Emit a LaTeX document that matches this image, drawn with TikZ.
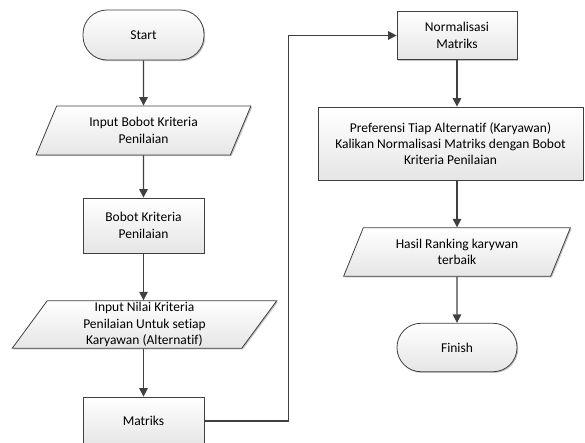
\documentclass[tikz,border=0pt]{standalone}
\usepackage{fontspec}
\setmainfont{Carlito}[Ligatures=NoCommon]
\usetikzlibrary{shapes.geometric,arrows.meta,shadows}

\def\lw{0.8pt}

\begin{document}
\begin{tikzpicture}[x=1pt, y=-1pt,
    every node/.style={font=\fontsize{13.5}{16.3}\selectfont, align=center, inner sep=0pt},
    base/.style={draw=black!75, line width=\lw, top color=white, bottom color=black!10,
      drop shadow={shadow xshift=1.2pt, shadow yshift=-1.2pt, fill=black!40, opacity=0.6}},
    term/.style={base, rectangle, rounded corners=24pt},
    io/.style={base, trapezium, trapezium left angle=63.5, trapezium right angle=116.5, trapezium stretches=true},
    proc/.style={base, rectangle},
    arr/.style={draw=black!75, line width=1.4pt, -{Triangle[width=8.5pt,length=8.5pt]}}]
      \useasboundingbox (0,0) rectangle (585,443);
      \node[term, minimum width=121pt, minimum height=50pt] (start) at (143.5, 35) {Start};
      \node[io, minimum width=215pt, minimum height=49pt] (inbobot) at (143.5, 130.5) {Input Bobot Kriteria\\Penilaian};
      \node[proc, minimum width=121pt, minimum height=55pt] (bobot) at (143.5, 225.5) {Bobot Kriteria\\Penilaian};
      \node[io, minimum width=265pt, minimum height=47.5pt] (innilai) at (144.5, 324.5) {Input Nilai Kriteria\\Penilaian Untuk setiap\\Karyawan (Alternatif)};
      \node[proc, minimum width=121pt, minimum height=48pt] (matriks) at (143.5, 421) {Matriks};
      \node[proc, minimum width=120pt, minimum height=48pt] (norm) at (457, 35.5) {Normalisasi\\Matriks};
      \node[proc, minimum width=265pt, minimum height=73pt] (pref) at (450.5, 143.5) {Preferensi Tiap Alternatif (Karyawan)\\Kalikan Normalisasi Matriks dengan Bobot\\Kriteria Penilaian};
      \node[io, minimum width=227pt, minimum height=48.5pt] (hasil) at (457, 252) {Hasil Ranking karywan\\terbaik};
      \node[term, minimum width=120pt, minimum height=48.5pt] (finish) at (457, 347.5) {Finish};
      \draw[arr] (start.south) -- (inbobot.north);
      \draw[arr] (inbobot.south) -- (bobot.north);
      \draw[arr] (bobot.south) -- (bobot.south |- innilai.north);
      \draw[arr] (matriks.north |- innilai.south) -- (matriks.north);
      \draw[arr] (matriks.east) -- ++(84,0) |- (norm.west);
      \draw[arr] (norm.south) -- (norm.south |- pref.north);
      \draw[arr] (hasil.north |- pref.south) -- (hasil.north);
      \draw[arr] (hasil.south) -- (finish.north);
\end{tikzpicture}
\end{document}
